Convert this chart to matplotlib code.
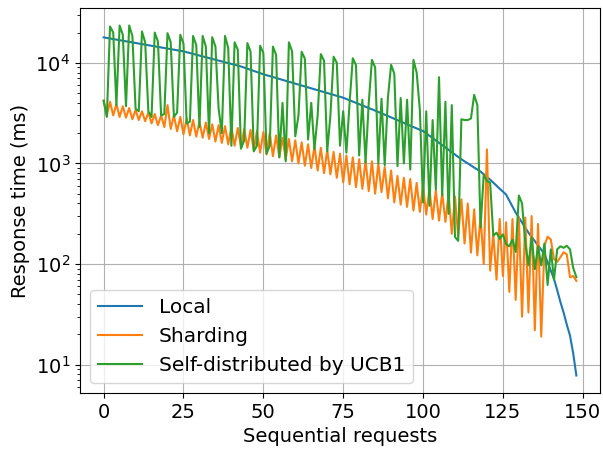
import numpy as np
import matplotlib
matplotlib.use("Agg")
import matplotlib.pyplot as plt

plt.rcParams["font.size"] = 14

# --- Daten ---
requests = list(range(149))

local = [
    17900, 17670, 17450, 17230, 17010, 16790, 16580, 16370, 16160, 15950,
    15750, 15550, 15350, 15160, 14970, 14780, 14590, 14400, 14220, 14040,
    13860, 13690, 13510, 13340, 13170, 13000, 12750, 12510, 12280, 12040,
    11810, 11590, 11370, 11150, 10940, 10730, 10530, 10330, 10130, 9940,
    9750, 9570, 9380, 9200, 8970, 8740, 8520, 8300, 8090, 7890,
    7700, 7540, 7380, 7220, 7070, 6920, 6770, 6630, 6490, 6350,
    6210, 6080, 5950, 5830, 5700, 5580, 5460, 5350, 5230, 5120,
    5010, 4910, 4800, 4700, 4600, 4500, 4370, 4240, 4120, 4000,
    3880, 3770, 3660, 3550, 3450, 3350, 3250, 3150, 3050, 2960,
    2870, 2780, 2690, 2610, 2530, 2450, 2370, 2300, 2230, 2160,
    2100, 1990, 1885, 1785, 1690, 1600, 1520, 1440, 1365, 1290,
    1225, 1160, 1100, 1050, 1000, 955, 910, 870, 830, 780,
    735, 690, 645, 600, 560, 525, 490, 427, 372, 325,
    290, 258, 230, 205, 186, 169, 153, 139, 126, 104,
    86, 71, 55, 42, 33, 25, 19.5, 13, 7.8,
]

sharding = [
    4200, 3000, 4100, 3000, 3900, 2900, 3700, 2850, 3550, 2750,
    3400, 2700, 3300, 2630, 3200, 2500, 3100, 2400, 3000, 2300,
    3800, 2200, 3000, 2090, 2900, 1950, 2800, 1900, 2700, 1850,
    2600, 1800, 2550, 1750, 2450, 1650, 2400, 1600, 2350, 1550,
    2300, 1500, 2250, 1450, 2200, 1430, 2150, 1350, 2100, 1280,
    2050, 1230, 2000, 1180, 1900, 1150, 1800, 1100, 1750, 1050,
    1700, 1000, 1620, 950, 1550, 900, 1480, 850, 1430, 800,
    1360, 780, 1300, 720, 1250, 650, 1200, 620, 1150, 580,
    1100, 560, 1070, 530, 1050, 500, 1000, 520, 920, 450,
    850, 410, 750, 390, 720, 370, 700, 340, 640, 330,
    600, 310, 560, 280, 540, 270, 510, 263, 500, 200,
    470, 190, 440, 160, 400, 130, 350, 122, 300, 100,
    1380, 86, 200, 70, 280, 76, 260, 53, 280, 44,
    290, 30, 290, 33, 300, 22, 250, 19, 152, 187,
    175, 112, 105, 117, 131, 125, 74, 76, 68,
]

ucb1 = [
    4200, 2900, 23000, 20000, 3800, 23500, 19000, 3700, 23500, 18500,
    3500, 3300, 20500, 16000, 3300, 2900, 20000, 16300, 3000, 3100,
    19700, 16000, 2900, 3200, 19000, 15500, 2500, 2600, 18500, 15000,
    2300, 18500, 14500, 2000, 18000, 14500, 3500, 2000, 18500, 14000,
    1500, 16000, 13500, 1400, 1700, 15700, 12900, 1320, 1500, 14800,
    12500, 1250, 1500, 14500, 12000, 1150, 4000, 1050, 16000, 13000,
    1860, 3000, 12900, 11000, 1730, 4000, 1380, 3000, 12200, 10500,
    1320, 3000, 11500, 10000, 1500, 3300, 1280, 4000, 11100, 9500,
    1200, 4300, 1020, 4000, 10700, 9000, 1000, 4400, 960, 4500,
    9550, 7800, 940, 4470, 1000, 4300, 870, 10700, 8000, 3400,
    410, 3300, 380, 2700, 550, 7200, 480, 4100, 315, 3800,
    186, 170, 2750, 2700, 2700, 2800, 4800, 3800, 231, 775,
    668, 645, 191, 205, 178, 197, 158, 150, 175, 132,
    480, 400, 165, 97, 185, 89, 150, 97, 160, 62,
    140, 70, 140, 150, 145, 152, 140, 92, 74,
]

fig = plt.figure(figsize=(6.03, 4.49), dpi=100)
ax = fig.add_subplot(111)
fig.subplots_adjust(left=80 / 603, right=600 / 603, top=1 - 8 / 449, bottom=1 - 393 / 449)

ax.plot(requests, local, label="Local")
ax.plot(requests, sharding, label="Sharding")
ax.plot(requests, ucb1, label="Self-distributed by UCB1")

ax.set_yscale("log")
ax.set_xlabel("Sequential requests")
ax.set_ylabel("Response time (ms)")
ax.grid(True)
ax.legend(loc="lower left", fontsize=14.5, handlelength=2.2)

fig.savefig("out.png", dpi=100)
